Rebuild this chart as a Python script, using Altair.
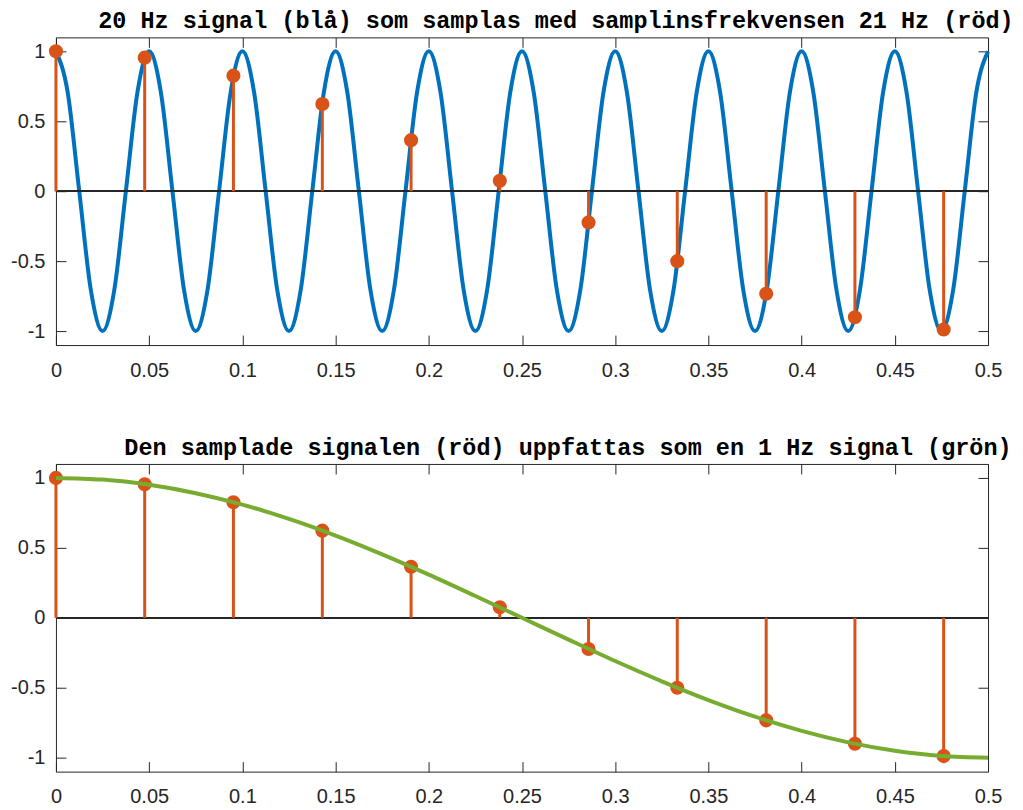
import altair as alt
import pandas as pd

# Sampled signal (red): sample times (1/21 s apart) and values
samples_t = [0.0, 0.0476, 0.0952, 0.1429, 0.1905, 0.2381, 0.2857, 0.3333, 0.3810, 0.4286, 0.4762]
samples_v = [1.0, 0.955, 0.826, 0.623, 0.365, 0.075, -0.223, -0.500, -0.733, -0.901, -0.989]

# 20 Hz signal (blue), read at every 1/8 period
blue_t = [0.0, 0.00625, 0.0125, 0.01875, 0.025, 0.03125, 0.0375, 0.04375,
          0.05, 0.05625, 0.0625, 0.06875, 0.075, 0.08125, 0.0875, 0.09375,
          0.1, 0.10625, 0.1125, 0.11875, 0.125, 0.13125, 0.1375, 0.14375,
          0.15, 0.15625, 0.1625, 0.16875, 0.175, 0.18125, 0.1875, 0.19375,
          0.2, 0.20625, 0.2125, 0.21875, 0.225, 0.23125, 0.2375, 0.24375,
          0.25, 0.25625, 0.2625, 0.26875, 0.275, 0.28125, 0.2875, 0.29375,
          0.3, 0.30625, 0.3125, 0.31875, 0.325, 0.33125, 0.3375, 0.34375,
          0.35, 0.35625, 0.3625, 0.36875, 0.375, 0.38125, 0.3875, 0.39375,
          0.4, 0.40625, 0.4125, 0.41875, 0.425, 0.43125, 0.4375, 0.44375,
          0.45, 0.45625, 0.4625, 0.46875, 0.475, 0.48125, 0.4875, 0.49375,
          0.5]
blue_v = [1, 0.71, 0, -0.71, -1, -0.71, 0, 0.71,
          1, 0.71, 0, -0.71, -1, -0.71, 0, 0.71,
          1, 0.71, 0, -0.71, -1, -0.71, 0, 0.71,
          1, 0.71, 0, -0.71, -1, -0.71, 0, 0.71,
          1, 0.71, 0, -0.71, -1, -0.71, 0, 0.71,
          1, 0.71, 0, -0.71, -1, -0.71, 0, 0.71,
          1, 0.71, 0, -0.71, -1, -0.71, 0, 0.71,
          1, 0.71, 0, -0.71, -1, -0.71, 0, 0.71,
          1, 0.71, 0, -0.71, -1, -0.71, 0, 0.71,
          1, 0.71, 0, -0.71, -1, -0.71, 0, 0.71,
          1]

# 1 Hz signal (green)
green_t = [0.0, 0.025, 0.05, 0.075, 0.1, 0.125, 0.15, 0.175, 0.2, 0.225, 0.25,
           0.275, 0.3, 0.325, 0.35, 0.375, 0.4, 0.425, 0.45, 0.475, 0.5]
green_v = [1.0, 0.988, 0.951, 0.891, 0.809, 0.707, 0.588, 0.454, 0.309, 0.156, 0.0,
           -0.156, -0.309, -0.454, -0.588, -0.707, -0.809, -0.891, -0.951, -0.988, -1.0]

x_ticks = [0, 0.05, 0.1, 0.15, 0.2, 0.25, 0.3, 0.35, 0.4, 0.45, 0.5]
y_ticks = [-1, -0.5, 0, 0.5, 1]

title_top = "20 Hz signal (blå) som samplas med samplinsfrekvensen 21 Hz (röd)"
title_bottom = "Den samplade signalen (röd) uppfattas som en 1 Hz signal (grön)"

BLUE = "#0072BD"
RED = "#D95319"
GREEN = "#77AC30"
AX = "#262626"

samp_df = pd.DataFrame({"t": samples_t, "v": samples_v, "zero": [0] * len(samples_t)})
blue_df = pd.DataFrame({"t": blue_t, "v": blue_v})
green_df = pd.DataFrame({"t": green_t, "v": green_v})

W, H = 933, 308
LBL = "'' + datum.value"


def panel(curve_df, color, title, curve_on_top, title_dx):
    xs = alt.Scale(domain=[0, 0.5], nice=False, zero=False)
    ys = alt.Scale(domain=[-1.1, 1.1], nice=False, zero=False)
    common = dict(offset=-10, tickSize=10, domain=False, grid=False, title=None,
                  minExtent=0, maxExtent=300)
    ax_bottom = alt.Axis(orient="bottom", values=x_ticks, labelExpr=LBL, labelFlush=False,
                         labelPadding=15, **common)
    ax_left = alt.Axis(orient="left", values=y_ticks, labelExpr=LBL, labelFlush=False,
                       labelPadding=11, **common)
    ax_top = alt.Axis(orient="top", values=x_ticks, labels=False, **common)
    ax_right = alt.Axis(orient="right", values=y_ticks, labels=False, **common)

    axes_layer = alt.Chart(samp_df).mark_point(opacity=0).encode(
        x=alt.X("t:Q", scale=xs, axis=ax_bottom),
        y=alt.Y("v:Q", scale=ys, axis=ax_left),
    )
    axes_layer2 = alt.Chart(samp_df).mark_point(opacity=0).encode(
        x=alt.X("t:Q", scale=xs, axis=ax_top),
        y=alt.Y("v:Q", scale=ys, axis=ax_right),
    )
    curve = alt.Chart(curve_df).mark_line(color=color, strokeWidth=4, interpolate="monotone").encode(
        x=alt.X("t:Q", scale=xs, axis=None),
        y=alt.Y("v:Q", scale=ys, axis=None),
    )
    zero = alt.Chart(samp_df).mark_rule(color=AX, strokeWidth=1.3).encode(
        y=alt.Y("zero:Q", scale=ys, axis=None),
    )
    stems = alt.Chart(samp_df).mark_rule(color=RED, strokeWidth=3).encode(
        x=alt.X("t:Q", scale=xs, axis=None),
        y=alt.Y("v:Q", scale=ys, axis=None),
        y2="zero:Q",
    )
    dots = alt.Chart(samp_df).mark_circle(color=RED, size=200, opacity=1).encode(
        x=alt.X("t:Q", scale=xs, axis=None),
        y=alt.Y("v:Q", scale=ys, axis=None),
    )
    if curve_on_top:
        layers = [axes_layer, axes_layer2, zero, stems, dots, curve]
    else:
        layers = [axes_layer, axes_layer2, curve, zero, stems, dots]
    return alt.layer(*layers).resolve_axis(x="independent", y="independent").properties(
        width=W, height=H,
        title=alt.TitleParams(text=title, font="Liberation Mono", fontSize=23.5, fontWeight="bold",
                              color="black", anchor="middle", frame="group", dx=title_dx, offset=-20,
                              baseline="bottom"),
    )


top = panel(blue_df, BLUE, title_top, curve_on_top=False, title_dx=34)
bottom = panel(green_df, GREEN, title_bottom, curve_on_top=True, title_dx=46)

chart = alt.vconcat(top, bottom, spacing=54).configure_view(
    stroke=AX, strokeWidth=1
).configure_axis(
    labelFont="Liberation Sans", labelFontSize=20, labelColor=AX,
    tickColor=AX, tickWidth=1,
).properties(padding={"left": 2, "top": 0, "right": 0, "bottom": 0})

chart.save("out.html", embed_options={"renderer": "svg", "actions": False})
